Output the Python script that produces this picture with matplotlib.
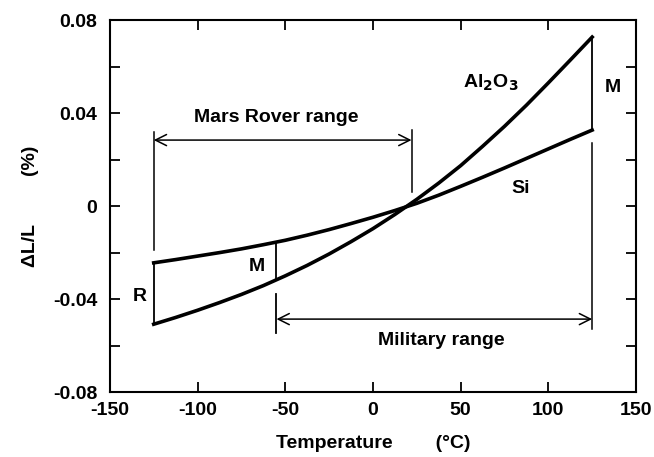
import numpy as np
import matplotlib
matplotlib.use('Agg')
import matplotlib.pyplot as plt

plt.rcParams['font.family'] = ['Liberation Sans', 'DejaVu Sans']
plt.rcParams['font.weight'] = 'bold'
plt.rcParams['axes.labelweight'] = 'bold'
plt.rcParams['axes.unicode_minus'] = False
plt.rcParams['mathtext.default'] = 'bf'

# datos
temp = [-125, -112.5, -100, -87.5, -75, -62.5, -50, -37.5, -25, -12.5, 0,
        12.5, 25, 37.5, 50, 62.5, 75, 87.5, 100, 112.5, 125]
al2o3 = [-0.0508, -0.0479, -0.0448, -0.0415, -0.0380, -0.0342, -0.0300, -0.0255,
         -0.0206, -0.0153, -0.0097, -0.0036, 0.0029, 0.0099, 0.0174, 0.0257,
         0.0343, 0.0434, 0.0530, 0.0628, 0.0727]
si = [-0.0244, -0.0230, -0.0215, -0.0200, -0.0184, -0.0166, -0.0147, -0.0125,
      -0.0101, -0.0075, -0.0048, -0.0019, 0.0012, 0.0047, 0.0085, 0.0124,
      0.0164, 0.0205, 0.0246, 0.0287, 0.0327]

mars_range = (-125, 22)
military_range = (-55, 125)

xticks = [-150, -100, -50, 0, 50, 100, 150]
yticks = [-0.08, -0.04, 0, 0.04, 0.08]
ytick_labels = ['-0.08', '-0.04', '0', '0.04', '0.08']

fig = plt.figure(figsize=(6.54, 4.57), dpi=100)
ax = fig.add_axes([0.168, 0.142, 0.8045, 0.814])

ax.plot(temp, al2o3, color='black', lw=2.6, solid_joinstyle='round')
ax.plot(temp, si, color='black', lw=2.6, solid_joinstyle='round')

# lineas verticales entre curvas
def valor(serie, t):
    return np.interp(t, temp, serie)

ax.plot([-125, -125], [valor(si, -125), valor(al2o3, -125)], color='black', lw=1.3)
ax.plot([-55, -55], [valor(si, -55), valor(al2o3, -55)], color='black', lw=1.3)
ax.plot([125, 125], [valor(si, 125), valor(al2o3, 125)], color='black', lw=1.3)

# rango Mars Rover
ax.plot([mars_range[0]] * 2, [-0.019, 0.0318], color='black', lw=1.1)
ax.plot([mars_range[1]] * 2, [0.006, 0.0327], color='black', lw=1.1)
ax.annotate('', xy=(mars_range[0], 0.0284), xytext=(mars_range[1], 0.0284),
            arrowprops=dict(arrowstyle='<->', lw=1.1, color='black',
                            shrinkA=0, shrinkB=0, mutation_scale=20))
ax.text(-55, 0.0383, 'Mars Rover range', ha='center', va='center', fontsize=14)

# rango militar
ax.plot([military_range[0]] * 2, [-0.038, -0.0546], color='black', lw=1.3)
ax.plot([military_range[1]] * 2, [-0.053, 0.027], color='black', lw=1.1)
ax.annotate('', xy=(military_range[0], -0.0486), xytext=(military_range[1], -0.0486),
            arrowprops=dict(arrowstyle='<->', lw=1.1, color='black',
                            shrinkA=0, shrinkB=0, mutation_scale=20))
ax.text(39, -0.0576, 'Military range', ha='center', va='center', fontsize=14)

# etiquetas
ax.text(67, 0.053, r'Al$_{2}$O$_{3}$', ha='center', va='center', fontsize=14)
ax.text(84, 0.0077, 'Si', ha='center', va='center', fontsize=14)
ax.text(137, 0.0508, 'M', ha='center', va='center', fontsize=14)
ax.text(-66, -0.026, 'M', ha='center', va='center', fontsize=14)
ax.text(-133, -0.039, 'R', ha='center', va='center', fontsize=14)

ax.set_xlim(-150, 150)
ax.set_ylim(-0.08, 0.08)
ax.set_xticks(xticks)
ax.set_yticks(yticks)
ax.set_yticklabels(ytick_labels)
ax.set_yticks(np.arange(-0.06, 0.07, 0.04), minor=True)
ax.tick_params(which='both', direction='in', top=True, right=True,
               length=7, width=1.3, labelsize=14, pad=7)
ax.tick_params(axis='y', pad=9)
for s in ax.spines.values():
    s.set_linewidth(1.5)

ax.set_xlabel('Temperature        (°C)', fontsize=14, labelpad=12)
ax.set_ylabel('ΔL/L         (%)', fontsize=14, labelpad=10)

fig.savefig('out.png', dpi=100)
